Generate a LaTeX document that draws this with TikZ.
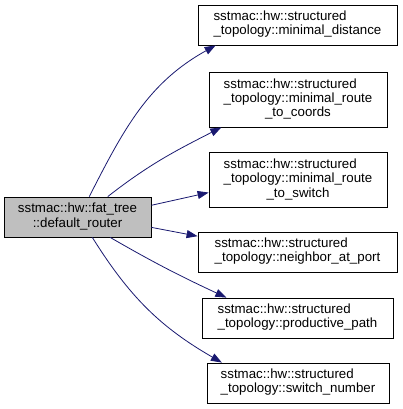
\documentclass[tikz,border=0pt]{standalone}
\usepackage{fontspec}
\setmainfont{Liberation Sans}
\usepackage{xcolor}
\usepackage{tikz}
\usetikzlibrary{arrows.meta}

\definecolor{edgeblue}{HTML}{191970}
\definecolor{srcgray}{HTML}{BFBFBF}

% three-line label: first two lines flush left, last one centred
\newcommand{\threelines}[3]{\begin{tabular}{@{}l@{}}#1\\#2\\\multicolumn{1}{@{}c@{}}{#3}\end{tabular}}
\newcommand{\twolines}[2]{\begin{tabular}{@{}l@{}}#1\\#2\end{tabular}}

\begin{document}
\begin{tikzpicture}[
    x=1pt, y=1pt,
    fn/.style={draw, line width=0.8pt, fill=white, inner sep=0pt,
               font=\fontsize{13.3}{15}\selectfont, align=center},
    call/.style={-{Triangle[length=11pt,width=8pt,fill=edgeblue]},
                 draw=edgeblue, line width=0.8pt}
]
\renewcommand{\arraystretch}{0.95}
\useasboundingbox (0,0) rectangle (403,409);

\node[fn, fill=srcgray, minimum width=147pt, minimum height=40pt] (src) at (77.5,192)
    {sstmac::hw::fat\_tree\\::default\_router};

\node[fn, minimum width=199pt, minimum height=40pt] (dist) at (297.5,384)
    {\twolines{sstmac::hw::structured}{\_topology::minimal\_distance}};
\node[fn, minimum width=178pt, minimum height=55pt] (coords) at (298,309.5)
    {\threelines{sstmac::hw::structured}{\_topology::minimal\_route}{\_to\_coords}};
\node[fn, minimum width=178pt, minimum height=55pt] (toswitch) at (298,229)
    {\threelines{sstmac::hw::structured}{\_topology::minimal\_route}{\_to\_switch}};
\node[fn, minimum width=199pt, minimum height=40pt] (port) at (297.5,157)
    {\twolines{sstmac::hw::structured}{\_topology::neighbor\_at\_port}};
\node[fn, minimum width=191pt, minimum height=40pt] (path) at (297.5,91)
    {\twolines{sstmac::hw::structured}{\_topology::productive\_path}};
\node[fn, minimum width=182pt, minimum height=40pt] (swnum) at (298,26)
    {\twolines{sstmac::hw::structured}{\_topology::switch\_number}};

\draw[call] (src.60) to[out=63, in=209] (dist.194);
\draw[call] (src.34) to[out=38, in=207] (coords.200);
\draw[call] (src.9) -- (toswitch.188);
\draw[call] (src.-8) -- (port.171);
\draw[call] (src.-32) to[out=-30, in=155] (path.164);
\draw[call] (src.-54) to[out=-58, in=150] (swnum.165);
\end{tikzpicture}
\end{document}
